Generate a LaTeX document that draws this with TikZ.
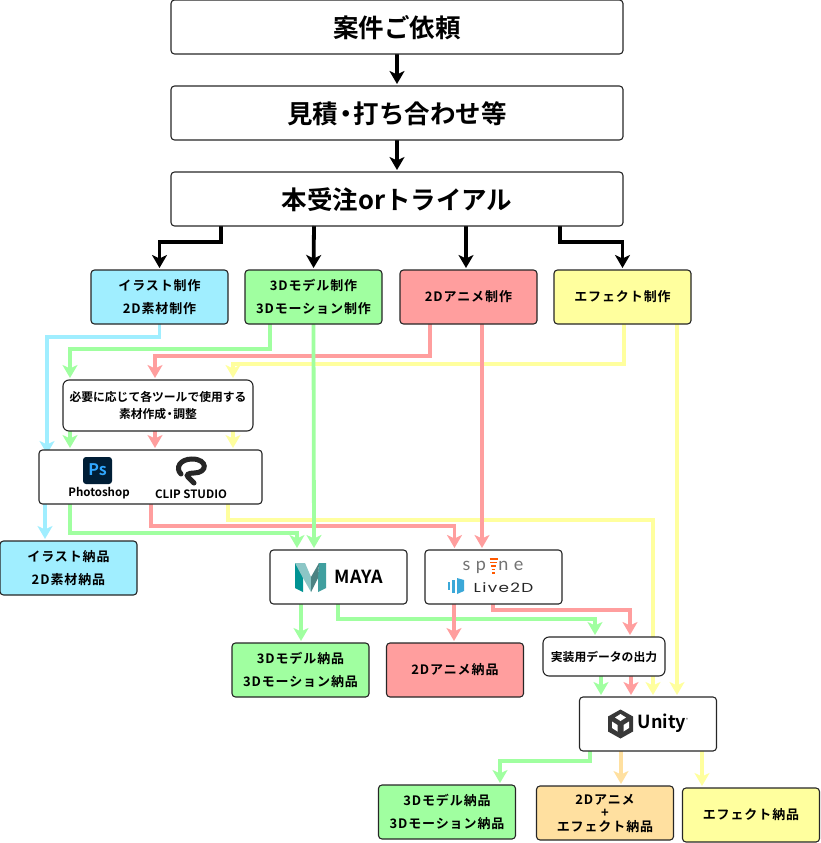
\documentclass[tikz,border=0pt]{standalone}
\usepackage{fontspec}
\usepackage{tikz}
\usetikzlibrary{arrows.meta,backgrounds}
\newfontfamily\cjk{Noto Sans CJK JP}[BoldFont=* Bold]
\newfontfamily\cjks{Noto Sans CJK JP}[BoldFont=* Bold,LetterSpace=7]
\newfontfamily\pop{Poppins}[FakeStretch=1.3,LetterSpace=10]
\newfontfamily\lat{Lato}[LetterSpace=30]
\newcommand{\nakaten}{\kern-.2em・\kern-.2em}
\definecolor{cblue}{HTML}{A0EEFF}
\definecolor{cgreen}{HTML}{A0FFA0}
\definecolor{cred}{HTML}{FF9E9E}
\definecolor{cyel}{HTML}{FFFF9E}
\definecolor{corg}{HTML}{FFE0A0}
\definecolor{cpsbg}{HTML}{001E36}
\definecolor{cpsfg}{HTML}{31A8FF}
\definecolor{clive}{HTML}{3BA8D8}
\tikzset{
  box/.style={draw=black!85, line width=1.1pt, rounded corners=3.5pt, outer sep=0pt, inner sep=0pt,
    align=center, minimum width=137pt, minimum height=54pt, font=\cjks\bfseries\fontsize{13}{22.5}\selectfont},
  bigbox/.style={box, minimum width=452pt, text height=24pt, text depth=3.2pt, font=\cjk\bfseries\fontsize{25.5}{30}\selectfont},
  toolbox/.style={box, fill=white},
  smallbox/.style={box, fill=white, rounded corners=6pt, font=\cjk\bfseries\fontsize{11.8}{17}\selectfont},
  logotext/.style={inner sep=0pt, font=\cjk\bfseries\fontsize{11.5}{14}\selectfont},
  arr/.style={line width=3.8pt, -{Stealth[length=13pt,width=15pt,inset=3.5pt]}, shorten >=2pt},
  barr/.style={arr, black},
  blue arr/.style={arr, cblue},
  green arr/.style={arr, cgreen},
  red arr/.style={arr, cred},
  yel arr/.style={arr, cyel},
  org arr/.style={arr, corg},
}
\begin{document}
\begin{tikzpicture}[x=1pt, y=-1pt]
  \useasboundingbox (0,0) rectangle (820,843);

  \node (Req) [bigbox] at (397,27) {案件ご依頼};
  \node (Est) [bigbox] at (397,113) {見積\nakaten 打ち合わせ等};
  \node (Ord) [bigbox] at (397,199) {本受注orトライアル};

  \node (Ill) [box, fill=cblue] at (159.5,297) {イラスト制作\\2D素材制作};
  \node (Mod) [box, fill=cgreen] at (313.5,297) {3Dモデル制作\\3Dモーション制作};
  \node (Ani) [box, fill=cred] at (468.5,297) {2Dアニメ制作};
  \node (Eff) [box, fill=cyel] at (622.5,297) {エフェクト制作};

  \node (Pre) [smallbox, minimum width=190pt, minimum height=51pt] at (158,405.5) {必要に応じて各ツールで使用する\\素材作成\nakaten 調整};
  \node (Tool) [toolbox, minimum width=223pt] at (150.5,477) {};
  \node (Ps) [logotext] at (99,493) {Photoshop};
  \node (Clip) [logotext] at (191,494) {CLIP STUDIO};

  \node (IllOut) [box, fill=cblue] at (68.5,568) {イラスト納品\\2D素材納品};
  \node (Maya) [toolbox] at (338.5,577) {};
  \node (Rig) [toolbox] at (493.5,577) {};
  \node (ModOut) [box, fill=cgreen] at (300.5,670) {3Dモデル納品\\3Dモーション納品};
  \node (AniOut) [box, fill=cred] at (455,670) {2Dアニメ納品};
  \node (Exp) [smallbox, minimum width=122pt, minimum height=39pt] at (604,656.5) {実装用データの出力};
  \node (Uni) [toolbox] at (648,724) {};
  \node (ModEnd) [box, fill=cgreen] at (447,812) {3Dモデル納品\\3Dモーション納品};
  \node (MixEnd) [box, fill=corg, font=\cjks\bfseries\fontsize{13}{13.5}\selectfont] at (605,813) {2Dアニメ\\+\\エフェクト納品};
  \node (EffEnd) [box, fill=cyel] at (751,815) {エフェクト納品};

  % logos
  \fill [rounded corners=3pt, cpsbg] (83,457) rectangle (112,484);
  \node (PsMark) [inner sep=0pt, text=cpsfg, font=\cjk\bfseries\fontsize{16}{16}\selectfont] at (97.5,470) {Ps};
  \draw [line width=5pt, black!85, line cap=round]
    (181,474) .. controls (175,468) and (180,459) .. (192,459)
    .. controls (208,459) and (208,473) .. (194,473)
    .. controls (188,473) and (186,475) .. (188,477) -- (194,483);

  \fill [teal!85!cyan] (295,563) -- (303,563) -- (303,592) -- (295,588) -- cycle;
  \fill [teal!45!white] (295,563) -- (305,563) -- (311,577) -- (311,592) -- (303,578) -- cycle;
  \fill [teal!75!white] (319,563) -- (326,563) -- (326,588) -- (318,592) -- (318,575) -- cycle;
  \fill [teal!60!black!70!white] (311,577) -- (319,563) -- (318,578) -- (311,592) -- cycle;
  \node (MayaT) [inner sep=0pt, font=\cjk\bfseries\fontsize{18}{18}\selectfont] at (359,577) {MAYA};

  \node (SpineT) [inner sep=0pt, text=black!55, font=\lat\fontsize{18}{18}\selectfont] at (493,565) {sp\phantom{i}\kern8pt ne};
  \foreach \yy/\ww in {559/4,562.5/3.2,566/2.6,569.5/1.9,573/1.2}
    \draw [line width=1.6pt, orange!70!red] (493.5-\ww,\yy) -- (493.5+\ww,\yy);
  \fill [clive] (448,582) rectangle (450,590);
  \fill [clive] (452,579.5) rectangle (455,592.5);
  \fill [clive] (457,578) -- (464,580) -- (464,591) -- (457,594) -- cycle;
  \node (LiveT) [inner sep=0pt, text=black!85, font=\pop\fontsize{13}{13}\selectfont] at (503.5,587.5) {Live2D};

  \fill [black!78] (620.5,709.5) -- (633,716.5) -- (633,731.5) -- (620.5,738.5) -- (608,731.5) -- (608,716.5) -- cycle;
  \fill [white] (620.5,714) -- (626,717.5) -- (620.5,721) -- (615,717.5) -- cycle;
  \fill [white] (612,721.5) -- (617.5,725) -- (617.5,731.5) -- (612,728) -- cycle;
  \fill [white] (629,721.5) -- (623.5,725) -- (623.5,731.5) -- (629,728) -- cycle;
  \node (UniT) [inner sep=0pt, font=\cjk\bfseries\fontsize{18}{18}\selectfont] at (662,723.5) {Unity};
  \node (UniR) [inner sep=0pt, font=\cjk\fontsize{4}{4}\selectfont] at (687,720) {®};

  \begin{pgfonlayer}{background}
  \draw [barr] (Req) -- (Est);
  \draw [barr] (Est) -- (Ord);
  \draw [barr] ([xshift=-176]Ord.south) -- ++(0,16) -| (Ill.north);
  \draw [barr] ([xshift=-83]Ord.south) -- (Mod.north);
  \draw [barr] ([xshift=69]Ord.south) -- ([xshift=-2.5]Ani.north);
  \draw [barr] ([xshift=163]Ord.south) -- ++(0,16) -| (Eff.north);

  \draw [yel arr] ([xshift=1.5]Eff.south) -- ++(0,40) -| ([xshift=75]Pre.north);
  \draw [yel arr] ([xshift=54.5]Eff.south) -- ([xshift=29]Uni.north);
  \draw [yel arr] ([xshift=75]Pre.south) -- ([xshift=82.5]Tool.north);
  \draw [yel arr] ([xshift=77.5]Tool.south) -- ++(0,16) -| ([xshift=5]Uni.north);
  \draw [yel arr] ([xshift=54]Uni.south) -- ([xshift=-49]EffEnd.north);

  \draw [green arr] ([xshift=-43.5]Mod.south) -- ++(0,25) -| ([xshift=-88]Pre.north);
  \draw [green arr] ([xshift=-88]Pre.south) -- ([xshift=-80.5]Tool.north);
  \draw [green arr] ([xshift=-80.5]Tool.south) -- ++(0,29) -| ([xshift=-41.5]Maya.north);
  \draw [green arr] ([xshift=-37.5]Maya.south) -- ([xshift=0.5]ModOut.north);
  \draw [green arr] ([xshift=-0.5]Maya.south) -- ++(0,15) -| ([xshift=-9]Exp.north);
  \draw [green arr] ([xshift=-3]Exp.south) -- ([xshift=-47]Uni.north);
  \draw [green arr] ([xshift=-58]Uni.south) -- ++(0,10) -| ([xshift=53]ModEnd.north);

  \draw [red arr] ([xshift=-38.5]Ani.south) -- ++(0,32) -| ([xshift=-3]Pre.north);
  \draw [red arr] ([xshift=13.5]Ani.south) -- ([xshift=-11.5]Rig.north);
  \draw [red arr] ([xshift=-3]Pre.south) -- ([xshift=4.5]Tool.north);
  \draw [red arr] ([xshift=0.5]Tool.south) -- ++(0,22) -| ([xshift=-39]Rig.north);
  \draw [red arr] ([xshift=-39.5]Rig.south) -- ([xshift=-1]AniOut.north);
  \draw [red arr] ([xshift=-0.5]Rig.south) -- ++(0,6) -| ([xshift=26]Exp.north);
  \draw [red arr] ([xshift=27]Exp.south) -- ([xshift=-17]Uni.north);

  \draw [green arr] (Mod.south) -- ([xshift=-24.5]Maya.north);

  \draw [blue arr] (Ill.south) -- ++(0,13) -| ([xshift=-103.5,yshift=-6]Tool.north);
  \draw [blue arr] ([xshift=-105.5]Tool.south) -- ([xshift=-23.5]IllOut.north);

  \draw [org arr] ([xshift=-27]Uni.south) -- ([xshift=16]MixEnd.north);
  \end{pgfonlayer}
\end{tikzpicture}
\end{document}
